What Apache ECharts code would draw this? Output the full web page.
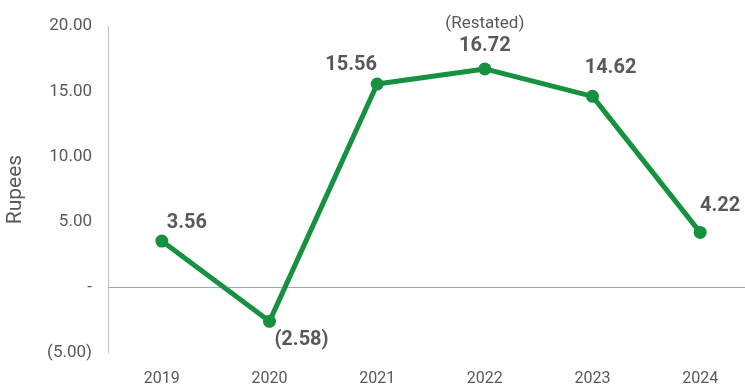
<!DOCTYPE html>
<html><head><meta charset="utf-8">
<script src="https://cdn.jsdelivr.net/npm/echarts@6/dist/echarts.min.js"></script>
<style>html,body{margin:0;padding:0;background:#fff}#c{width:745px;height:387px}</style>
</head><body><div id="c"></div>
<script>
const categories = ['2019','2020','2021','2022','2023','2024'];
const eps = [3.56, -2.58, 15.56, 16.72, 14.62, 4.22];
const yTicks = { min: -5, max: 20, interval: 5 };

function fmt(v, d) {
  if (v === 0) return '-';
  const s = Math.abs(v).toFixed(d);
  return v < 0 ? '(' + s + ')' : s;
}

const labelCfg = [
  { position: 'top', offset: [25, 4] },
  { position: 'bottom', offset: [32, -3] },
  { position: 'top', offset: [-26, 3] },
  { position: 'top', offset: [0, -1], restated: true },
  { position: 'top', offset: [18, -6] },
  { position: 'top', offset: [20, -4] }
];

const data = eps.map((v, i) => {
  const c = labelCfg[i];
  return {
    value: v,
    label: {
      position: c.position,
      offset: c.offset,
      formatter: c.restated ? '{r|(Restated)}\n{v|' + fmt(v, 2) + '}' : '{v|' + fmt(v, 2) + '}'
    }
  };
});

const chart = echarts.init(document.getElementById('c'));
chart.setOption({
  animation: false,
  textStyle: { fontFamily: 'Roboto' },
  grid: { left: 108, right: -9, top: 26, bottom: 34, containLabel: false, outerBoundsMode: 'none' },
  xAxis: {
    type: 'category',
    data: categories,
    boundaryGap: true,
    axisLine: { show: false, onZero: false },
    axisTick: { show: false },
    axisLabel: { color: '#595959', fontSize: 16, margin: 18, fontFamily: 'Roboto' }
  },
  yAxis: {
    type: 'value',
    min: yTicks.min, max: yTicks.max, interval: yTicks.interval,
    name: 'Rupees',
    nameLocation: 'middle',
    nameGap: 82,
    nameTextStyle: { color: '#595959', fontSize: 21, fontFamily: 'Roboto' },
    axisLine: { show: true, lineStyle: { color: '#bfbfbf', width: 1 } },
    axisTick: { show: false },
    splitLine: { show: false },
    axisLabel: { color: '#595959', fontSize: 17, margin: 16, fontFamily: 'Roboto',
      formatter: v => fmt(v, 2) }
  },
  series: [{
    type: 'line',
    data: data,
    symbol: 'circle',
    symbolSize: 13,
    lineStyle: { color: '#15913f', width: 5 },
    itemStyle: { color: '#15913f' },
    label: {
      show: true,
      distance: 5,
      rich: {
        v: { fontSize: 20, fontWeight: 'bold', color: '#595959', fontFamily: 'Roboto', lineHeight: 21 },
        r: { fontSize: 17, color: '#595959', fontFamily: 'Roboto', lineHeight: 23 }
      }
    },
    markLine: {
      silent: true,
      symbol: 'none',
      label: { show: false },
      lineStyle: { color: '#a6a6a6', type: 'solid', width: 1 },
      data: [{ yAxis: 0 }],
      z: 1
    },
    z: 3
  }]
});
</script></body></html>
